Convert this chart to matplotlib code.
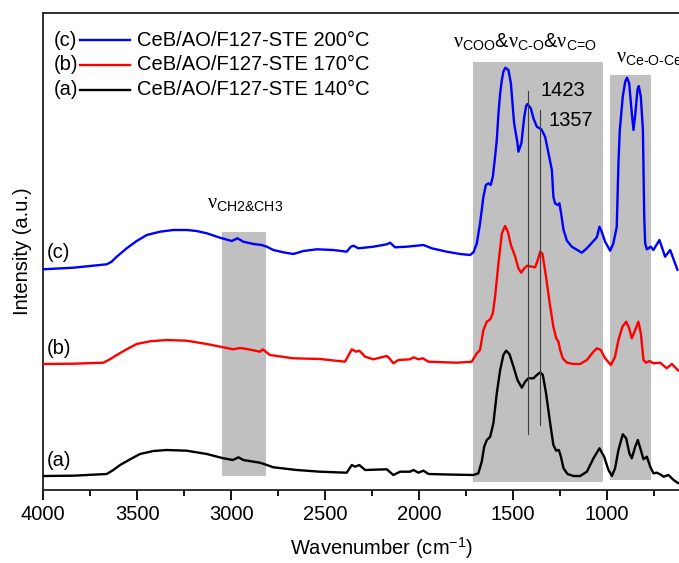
import numpy as np
import matplotlib.pyplot as plt
from matplotlib.lines import Line2D

plt.rcParams['font.family'] = ['Liberation Sans', 'DejaVu Sans']
plt.rcParams['mathtext.fontset'] = 'custom'
plt.rcParams['mathtext.rm'] = 'Liberation Sans'
plt.rcParams['mathtext.it'] = 'Liberation Serif'
plt.rcParams['mathtext.bf'] = 'Liberation Sans:bold'

# (a) CeB/AO/F127-STE 140°C
wn_a = [4000, 3839, 3661, 3626, 3590, 3537, 3484, 3413, 3342, 3236, 3129, 3041, 2990,
        2961, 2935, 2881, 2846, 2810, 2775, 2651, 2527, 2385, 2358, 2340, 2318, 2287,
        2172, 2137, 2101, 2048, 2030, 2004, 1977, 1950, 1850, 1711, 1685, 1667, 1654,
        1640, 1622, 1605, 1587, 1569, 1552, 1537, 1520, 1498, 1477, 1454, 1436, 1419,
        1392, 1374, 1356, 1342, 1325, 1303, 1286, 1271, 1257, 1246, 1232, 1211, 1179,
        1144, 1108, 1073, 1041, 1016, 993, 975, 958, 940, 917, 899, 882, 869, 851, 837,
        821, 807, 789, 771, 754, 736, 718, 700, 674, 647, 621]
int_a = [1, 1.3, 3, 7, 12, 17.7, 23, 26, 27, 26.3, 23, 18.7, 17,
         19.7, 17, 15.3, 14.3, 12, 9.7, 7, 5.3, 4.3, 12, 10.3, 12, 7,
         7.7, 2, 5.3, 5.3, 7, 4.3, 6.3, 3, 2.5, 2, 3.7, 15.3, 30.3,
         37, 40.3, 53.7, 83.7, 107, 122, 126.3, 123, 110.3, 97, 89.3, 95.3, 98.7,
         98.7, 102, 104.7, 102, 83.7, 53.7, 32, 26.3, 27, 20.3, 8.7, 3, 1,
         1, 5.3, 18.7, 28.7, 20.3, 7, 1, 8.7, 27, 42.7, 38.7, 23.7, 18.7, 30.3, 37,
         27, 17.7, 20.3, 10.3, 3.7, 4.3, 2.7, 0.3, 2, -3, -6.3]

# (b) CeB/AO/F127-STE 170°C
wn_b = [4000, 3839, 3679, 3644, 3608, 3555, 3502, 3431, 3342, 3236, 3129, 3041, 2990,
        2952, 2908, 2872, 2846, 2832, 2793, 2669, 2527, 2394, 2358, 2335, 2318, 2287,
        2243, 2172, 2158, 2137, 2110, 2048, 2030, 2004, 1980, 1950, 1800, 1720, 1693,
        1676, 1658, 1640, 1622, 1608, 1596, 1578, 1560, 1543, 1528, 1512, 1489, 1472,
        1457, 1441, 1424, 1401, 1383, 1369, 1356, 1344, 1325, 1303, 1286, 1271, 1259,
        1250, 1236, 1214, 1179, 1144, 1108, 1073, 1055, 1034, 1011, 980, 958, 940, 919,
        899, 883, 869, 851, 834, 821, 807, 793, 775, 754, 718, 683, 656, 621]
int_b = [0, 0.3, 1.3, 4.7, 9, 14.7, 20, 22.7, 24, 23.3, 20, 16.7, 14.7,
         16, 14.7, 13.3, 12.3, 14.7, 9, 5.7, 5, 2.3, 14.7, 12.3, 13.3, 7.3,
         4.7, 8, 5.7, 0.7, 4, 4.7, 6.7, 4.7, 5.7, 2.3, 1.3, 2.3, 10.7,
         14, 34, 42.3, 44.7, 50.7, 67.3, 100.7, 130.7, 138, 132.3, 119, 107.3, 95.7,
         91.3, 95.7, 98.3, 97.3, 96.7, 104, 112.3, 110, 87.3, 57.3, 37.3, 25.7, 22.3,
         14, 5.7, 1.3, 0, 0, 4, 12.3, 15.7, 14, 5.7, -1, 7.3, 24, 37.3,
         42.3, 35.7, 25.7, 34, 42.3, 30.7, 4, 1.3, 3, 0.7, 1.3, -4.3, 0, -6.7]

# (c) CeB/AO/F127-STE 200°C
wn_c = [4000, 3839, 3661, 3635, 3608, 3555, 3502, 3448, 3378, 3307, 3236, 3183, 3129,
        3059, 2996, 2966, 2935, 2881, 2837, 2810, 2775, 2722, 2669, 2615, 2544, 2456,
        2385, 2363, 2349, 2323, 2243, 2172, 2154, 2128, 2066, 1977, 1933, 1853, 1782,
        1729, 1711, 1693, 1676, 1658, 1645, 1631, 1619, 1608, 1596, 1587, 1578, 1569,
        1560, 1552, 1542, 1525, 1512, 1495, 1477, 1472, 1456, 1441, 1431, 1424, 1406,
        1392, 1374, 1350, 1330, 1312, 1294, 1286, 1277, 1264, 1254, 1245, 1232, 1214,
        1188, 1135, 1108, 1076, 1055, 1041, 1029, 1011, 984, 967, 949, 940, 933, 917,
        904, 895, 883, 869, 860, 850, 839, 832, 821, 810, 803, 798, 789, 768, 754, 722,
        692, 665, 626]
int_c = [0.7, 2.3, 5.7, 8.3, 13.3, 21.7, 29, 35, 38.3, 40, 40, 39, 36.7,
         32.3, 29, 31.7, 28.3, 26, 25, 23.3, 20, 17.7, 16, 19, 20.7, 20,
         18.3, 23.3, 24.3, 21.7, 23.3, 25.7, 27.3, 22.7, 23.3, 25, 21.7, 18.3, 16,
         15, 17.7, 26.7, 46.7, 73.3, 85, 86.7, 85, 93.3, 113.3, 130, 156.7, 176.7,
         190, 198.3, 202.3, 200, 186.7, 147, 127, 118.3, 127, 153, 164, 166, 161.7,
         151.7, 143.3, 140.7, 133.3, 116.7, 100, 73.3, 66.7, 65, 66.7, 56.7, 40, 29.3,
         23.3, 17.3, 21.7, 28.3, 32.7, 43.3, 38.3, 28.3, 19.3, 26.7, 43.3, 107, 140, 173.3,
         188.3, 192.3, 186.7, 156.7, 140, 156.7, 180, 184, 173.3, 140, 53.3, 26.7, 20.7, 23.3, 20, 30,
         13.3, 20, 0]

offsets = [13, 126, 220]
colors = ['black', 'red', 'blue']
tags = ['(a)', '(b)', '(c)']
names = ['CeB/AO/F127-STE 140°C', 'CeB/AO/F127-STE 170°C', 'CeB/AO/F127-STE 200°C']

# shaded bands: (high wn, low wn, bottom, top)
bands = [(3046, 2816, 14, 258), (1711, 1022, 8, 428), (984, 766, 10, 415)]
peaks = [1423, 1357]
peak_lines = [(56, 399), (65, 380)]

fig = plt.figure(figsize=(6.79, 5.63), dpi=100)
ax = fig.add_axes([43 / 679, 73 / 563, 677 / 679, 477 / 563])

for x0, x1, y0, y1 in bands:
    ax.fill_between([x1, x0], y0, y1, color='#c0c0c0', lw=0, zorder=1)

for wn, it, off, c in zip([wn_a, wn_b, wn_c], [int_a, int_b, int_c], offsets, colors):
    ax.plot(wn, np.array(it) + off, color=c, lw=1.7, zorder=3,
            solid_joinstyle='round', solid_capstyle='round')

for p, (y0, y1) in zip(peaks, peak_lines):
    ax.plot([p, p], [y0, y1], color='#404040', lw=0.8, zorder=4)

ax.text(1356, 400, '1423', fontsize=14.5, va='center', ha='left')
ax.text(1314, 369, '1357', fontsize=14.5, va='center', ha='left')

ax.text(1819, 443, r'$\nu_{\text{COO}}&\nu_{\text{C-O}}&\nu_{\text{C=O}}$',
        fontsize=14.5, va='baseline', ha='left')
ax.text(951, 428, r'$\nu_{\text{Ce-O-Ce}}$', fontsize=14.5, va='baseline', ha='left')
ax.text(3128, 282, r'$\nu_{\text{CH2&CH3}}$', fontsize=14.5, va='baseline', ha='left')

# curve tags at the left edge
for tag, y in zip(tags, [30, 142, 237]):
    ax.text(0.006, y, tag, transform=ax.get_yaxis_transform(), fontsize=14.5, va='center')

# legend, drawn row by row
for i, (tag, name, c) in enumerate(zip(tags[::-1], names[::-1], colors[::-1])):
    yy = 0.943 - i * 0.052
    ax.text(0.0165, yy, tag, transform=ax.transAxes, fontsize=14.5, va='center')
    ax.add_line(Line2D([0.0545, 0.1285], [yy, yy], transform=ax.transAxes, color=c, lw=1.7))
    ax.text(0.139, yy, name, transform=ax.transAxes, fontsize=14.5, va='center')

ax.set_xlim(4000, 400)
ax.set_ylim(0, 477)
ax.set_xticks([4000, 3500, 3000, 2500, 2000, 1500, 1000])
ax.set_xticks(np.arange(3750, 600, -500), minor=True)
ax.set_yticks([])
ax.tick_params(axis='x', which='major', direction='out', length=7, width=1.3, labelsize=14.5, pad=4)
ax.tick_params(axis='x', which='minor', direction='out', length=4, width=1.3)
ax.spines['right'].set_visible(False)
for s in ['left', 'bottom', 'top']:
    ax.spines[s].set_linewidth(1.3)
    ax.spines[s].set_color('#202020')

ax.set_xlabel('Wavenumber (cm$^{-1}$)', fontsize=14.5, labelpad=8)
ax.set_ylabel('Intensity (a.u.)', fontsize=14.5, labelpad=8)

fig.savefig('out.png', dpi=100)
